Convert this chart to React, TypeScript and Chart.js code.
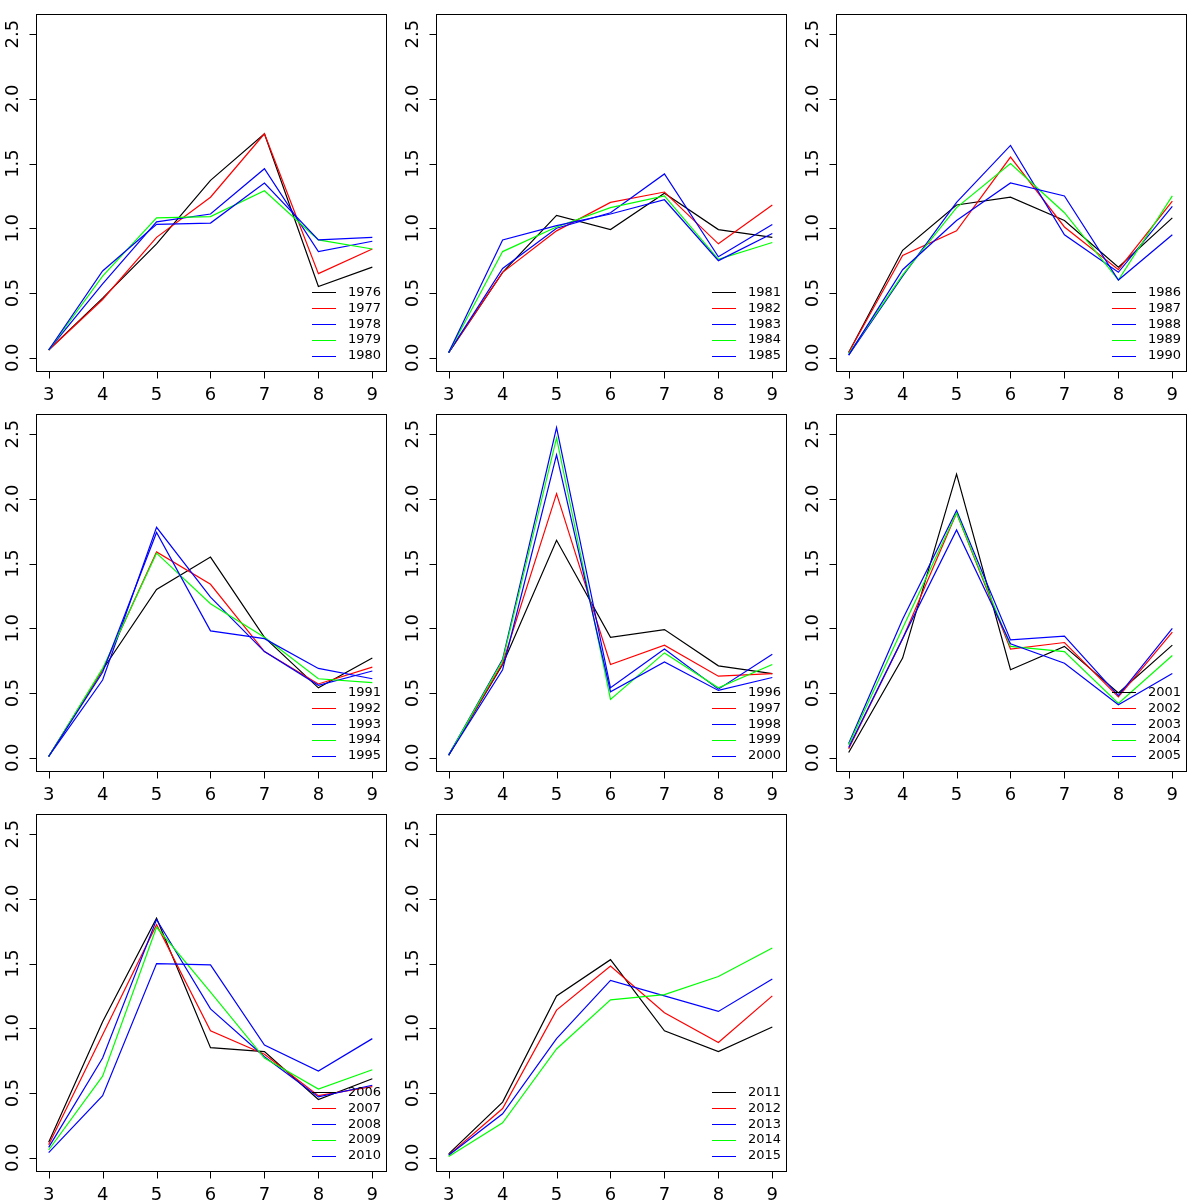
import { useEffect, useRef } from "react";
import { Chart, registerables } from "chart.js";

Chart.register(...registerables);

const ages = [3, 4, 5, 6, 7, 8, 9];
const xTicks = [3, 4, 5, 6, 7, 8, 9];
const yTicks = [0, 0.5, 1, 1.5, 2, 2.5];
const yTickLabels = ["0.0", "0.5", "1.0", "1.5", "2.0", "2.5"];

const v1976 = [0.06, 0.46, 0.88, 1.37, 1.73, 0.55, 0.7];
const v1977 = [0.06, 0.45, 0.93, 1.24, 1.73, 0.65, 0.84];
const v1978 = [0.06, 0.57, 1.05, 1.11, 1.46, 0.82, 0.9];
const v1979 = [0.06, 0.63, 1.08, 1.09, 1.29, 0.91, 0.84];
const v1980 = [0.06, 0.67, 1.03, 1.04, 1.35, 0.91, 0.93];

const v1981 = [0.04, 0.66, 1.1, 0.99, 1.27, 0.99, 0.93];
const v1982 = [0.04, 0.66, 0.98, 1.2, 1.28, 0.88, 1.18];
const v1983 = [0.04, 0.69, 1.0, 1.12, 1.42, 0.78, 1.03];
const v1984 = [0.04, 0.82, 1.01, 1.16, 1.25, 0.76, 0.89];
const v1985 = [0.04, 0.91, 1.02, 1.11, 1.22, 0.75, 0.96];

const v1986 = [0.04, 0.83, 1.18, 1.24, 1.06, 0.7, 1.08];
const v1987 = [0.04, 0.79, 0.98, 1.55, 1.01, 0.68, 1.21];
const v1988 = [0.02, 0.63, 1.2, 1.64, 0.95, 0.66, 1.17];
const v1989 = [0.03, 0.64, 1.16, 1.5, 1.12, 0.6, 1.25];
const v1990 = [0.02, 0.68, 1.06, 1.35, 1.25, 0.6, 0.95];

const v1991 = [0.01, 0.68, 1.3, 1.55, 0.93, 0.54, 0.77];
const v1992 = [0.01, 0.68, 1.59, 1.34, 0.82, 0.57, 0.7];
const v1993 = [0.01, 0.6, 1.78, 1.24, 0.82, 0.56, 0.67];
const v1994 = [0.01, 0.69, 1.58, 1.19, 0.93, 0.61, 0.58];
const v1995 = [0.01, 0.66, 1.74, 0.98, 0.92, 0.69, 0.61];

const v1996 = [0.02, 0.72, 1.68, 0.93, 0.99, 0.71, 0.65];
const v1997 = [0.02, 0.73, 2.04, 0.72, 0.87, 0.63, 0.65];
const v1998 = [0.02, 0.76, 2.55, 0.54, 0.84, 0.53, 0.8];
const v1999 = [0.02, 0.75, 2.47, 0.45, 0.81, 0.54, 0.72];
const v2000 = [0.02, 0.68, 2.34, 0.51, 0.74, 0.52, 0.62];

const v2001 = [0.04, 0.77, 2.19, 0.68, 0.86, 0.5, 0.87];
const v2002 = [0.07, 0.92, 1.89, 0.84, 0.89, 0.47, 0.97];
const v2003 = [0.11, 1.07, 1.91, 0.91, 0.94, 0.48, 1.0];
const v2004 = [0.1, 1.0, 1.89, 0.86, 0.82, 0.42, 0.79];
const v2005 = [0.08, 0.92, 1.76, 0.88, 0.73, 0.41, 0.65];

const v2006 = [0.12, 1.05, 1.85, 0.85, 0.82, 0.45, 0.61];
const v2007 = [0.1, 0.95, 1.8, 0.98, 0.8, 0.48, 0.55];
const v2008 = [0.08, 0.77, 1.84, 1.15, 0.78, 0.47, 0.56];
const v2009 = [0.06, 0.63, 1.78, 1.28, 0.77, 0.53, 0.68];
const v2010 = [0.04, 0.48, 1.5, 1.49, 0.87, 0.67, 0.92];

const v2011 = [0.03, 0.43, 1.25, 1.53, 0.98, 0.82, 1.01];
const v2012 = [0.02, 0.38, 1.14, 1.48, 1.12, 0.89, 1.25];
const v2013 = [0.02, 0.34, 0.92, 1.37, 1.25, 1.13, 1.38];
const v2014 = [0.01, 0.27, 0.84, 1.22, 1.26, 1.4, 1.62];
const v2015 = [null, null, null, null, null, null, null];

const seriesColors = ["#000000", "#ff0000", "#0000ff", "#00ff00", "#0000ff"];

const panels = [
  { years: ["1976", "1977", "1978", "1979", "1980"], series: [v1976, v1977, v1978, v1979, v1980] },
  { years: ["1981", "1982", "1983", "1984", "1985"], series: [v1981, v1982, v1983, v1984, v1985] },
  { years: ["1986", "1987", "1988", "1989", "1990"], series: [v1986, v1987, v1988, v1989, v1990] },
  { years: ["1991", "1992", "1993", "1994", "1995"], series: [v1991, v1992, v1993, v1994, v1995] },
  { years: ["1996", "1997", "1998", "1999", "2000"], series: [v1996, v1997, v1998, v1999, v2000] },
  { years: ["2001", "2002", "2003", "2004", "2005"], series: [v2001, v2002, v2003, v2004, v2005] },
  { years: ["2006", "2007", "2008", "2009", "2010"], series: [v2006, v2007, v2008, v2009, v2010] },
  { years: ["2011", "2012", "2013", "2014", "2015"], series: [v2011, v2012, v2013, v2014, v2015] },
];

const FONT = "'DejaVu Sans', sans-serif";

// R-style box, outward ticks, rotated y labels and a box-less legend
const rStylePlugin = {
  id: "rStyle",
  afterDraw(chart: any) {
    const { ctx, chartArea } = chart;
    const { left, top, right, bottom } = chartArea;
    const xs = chart.scales.x;
    const ys = chart.scales.y;
    ctx.save();
    ctx.strokeStyle = "#000";
    ctx.fillStyle = "#000";
    ctx.lineWidth = 1;
    ctx.strokeRect(Math.round(left) + 0.5, Math.round(top) + 0.5, Math.round(right - left), Math.round(bottom - top));

    const by = Math.round(bottom) + 0.5;
    ctx.beginPath();
    ctx.moveTo(xs.getPixelForValue(xTicks[0]), by);
    ctx.lineTo(xs.getPixelForValue(xTicks[xTicks.length - 1]), by);
    xTicks.forEach((v) => {
      const px = Math.round(xs.getPixelForValue(v)) + 0.5;
      ctx.moveTo(px, by);
      ctx.lineTo(px, by + 7);
    });
    const lx = Math.round(left) + 0.5;
    ctx.moveTo(lx, ys.getPixelForValue(yTicks[0]));
    ctx.lineTo(lx, ys.getPixelForValue(yTicks[yTicks.length - 1]));
    yTicks.forEach((v) => {
      const py = Math.round(ys.getPixelForValue(v)) + 0.5;
      ctx.moveTo(lx, py);
      ctx.lineTo(lx - 7, py);
    });
    ctx.stroke();

    ctx.font = `18px ${FONT}`;
    ctx.textAlign = "center";
    ctx.textBaseline = "alphabetic";
    xTicks.forEach((v) => {
      ctx.fillText(String(v), xs.getPixelForValue(v), bottom + 29);
    });
    yTicks.forEach((v, i) => {
      ctx.save();
      ctx.translate(left - 18.5, ys.getPixelForValue(v));
      ctx.rotate(-Math.PI / 2);
      ctx.fillText(yTickLabels[i], 0, 0);
      ctx.restore();
    });

    const datasets = chart.data.datasets;
    ctx.font = `13px ${FONT}`;
    ctx.textAlign = "left";
    ctx.textBaseline = "middle";
    ctx.lineWidth = 1;
    const n = datasets.length;
    datasets.forEach((ds: any, i: number) => {
      const y = bottom - 14.7 - (n - 1 - i) * 15.9;
      ctx.strokeStyle = ds.borderColor;
      ctx.beginPath();
      ctx.moveTo(right - 73.7, Math.round(y) + 0.5);
      ctx.lineTo(right - 49.7, Math.round(y) + 0.5);
      ctx.stroke();
      ctx.fillStyle = "#000";
      ctx.fillText(ds.label, right - 37.7, y);
    });
    ctx.restore();
  },
};

type PanelProps = {
  years: string[];
  series: (number | null)[][];
  left: number;
  top: number;
};

function Panel({ years, series, left, top }: PanelProps) {
  const canvasRef = useRef<HTMLCanvasElement | null>(null);

  useEffect(() => {
    if (!canvasRef.current) return;

    const chart = new Chart(canvasRef.current, {
      type: "line",
      data: {
        datasets: years.map((year, i) => ({
          label: year,
          data: ages.map((a, j) => ({ x: a, y: series[i][j] })),
          borderColor: seriesColors[i],
          borderWidth: 1.2,
          pointRadius: 0,
          fill: false,
          tension: 0,
          order: -i,
        })),
      },
      options: {
        responsive: false,
        animation: false,
        devicePixelRatio: 1,
        layout: { padding: { left: 36, top: 14, right: 14.3, bottom: 39.3 } },
        scales: {
          x: { type: "linear", min: 2.765, max: 9.248, display: false },
          y: { type: "linear", min: -0.1, max: 2.655, display: false },
        },
        plugins: {
          legend: { display: false },
          tooltip: { enabled: false },
        },
      },
      plugins: [rStylePlugin],
    });

    return () => chart.destroy();
  }, [years, series]);

  return (
    <canvas
      ref={canvasRef}
      width={400}
      height={410}
      style={{ position: "absolute", left, top, width: 400, height: 410 }}
    />
  );
}

export default function App() {
  useEffect(() => {
    document.body.style.margin = "0";
    document.body.style.background = "#fff";
  }, []);

  return (
    <div style={{ position: "relative", width: 1200, height: 1200, overflow: "hidden", background: "#fff" }}>
      {panels.map((p, i) => (
        <Panel
          key={p.years[0]}
          years={p.years}
          series={p.series}
          left={(i % 3) * 400}
          top={Math.floor(i / 3) * 400}
        />
      ))}
    </div>
  );
}
